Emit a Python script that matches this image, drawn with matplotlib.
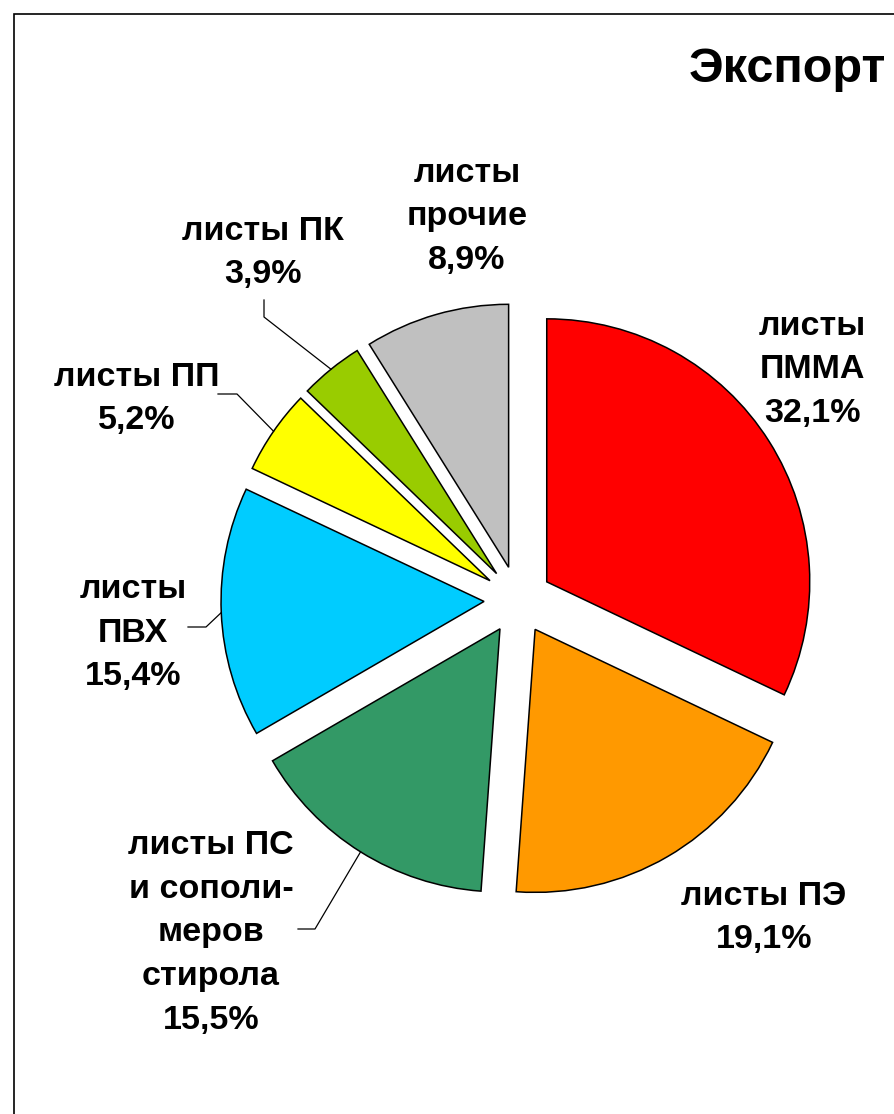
import math
import matplotlib
matplotlib.use("Agg")
import matplotlib.pyplot as plt
from matplotlib.patches import Rectangle

plt.rcParams['font.family'] = ['Liberation Sans', 'DejaVu Sans']

# data
names = ["листы\nПММА", "листы ПЭ", "листы ПС\nи сополи-\nмеров\nстирола",
         "листы\nПВХ", "листы ПП", "листы ПК", "листы\nпрочие"]
shares = [32.1, 19.1, 15.5, 15.4, 5.2, 3.9, 8.9]
colors = ["#FF0000", "#FF9900", "#339966", "#00CCFF", "#FFFF00", "#99CC00", "#C0C0C0"]

# layout, in image pixels (y down)
W, H = 895, 1114
center_px = (518, 600)
radius_px = 263
gap_px = 34
label_pos = [(812, 370), (764, 918), (211, 933), (133, 633), (137, 399), (263, 253), (467, 217)]
# leader elbows: (elbow point, end point near label) or None
leaders = [None, None,
           ((315, 929), (298, 929)),
           ((206, 627), (188, 627)),
           ((237, 394), (218, 394)),
           ((264, 317), (264, 300)),
           None]

fig = plt.figure(figsize=(W / 100, H / 100), dpi=100)
ax = fig.add_axes([0, 0, 1, 1])


def fy(y):
    return H - y


wedges, _ = ax.pie(shares, colors=colors, startangle=90, counterclock=False,
                   radius=radius_px, center=(center_px[0], fy(center_px[1])),
                   explode=[gap_px] * len(shares),
                   wedgeprops=dict(edgecolor="black", linewidth=1.1),
                   frame=True)
ax.set_xlim(0, W)
ax.set_ylim(0, H)
ax.set_aspect("auto")
ax.axis("off")

for i, w in enumerate(wedges):
    lx, ly = label_pos[i]
    pct = f"{shares[i]:.1f}".replace(".", ",") + "%"
    ax.text(lx, fy(ly), names[i] + "\n" + pct, ha="center", va="center",
            fontsize=24.5, fontweight="bold", linespacing=1.53, multialignment="center")
    if leaders[i] is not None:
        th = math.radians((w.theta1 + w.theta2) / 2)
        cx, cy = w.center
        px = cx + w.r * math.cos(th)
        py = cy + w.r * math.sin(th)
        (ex, ey), (tx, ty) = leaders[i]
        ax.plot([px, ex, tx], [py, fy(ey), fy(ty)], color="black", lw=0.9)

ax.text(886, fy(70), "Экспорт", ha="right", va="center", fontsize=35, fontweight="bold")

# outer frame running off the right and bottom
fig.patches.append(Rectangle((14 / W, -0.1), 1.2, 1 - 14 / H + 0.1, transform=fig.transFigure,
                             fill=False, edgecolor="black", linewidth=1.2))

fig.savefig("out.png", dpi=100)
